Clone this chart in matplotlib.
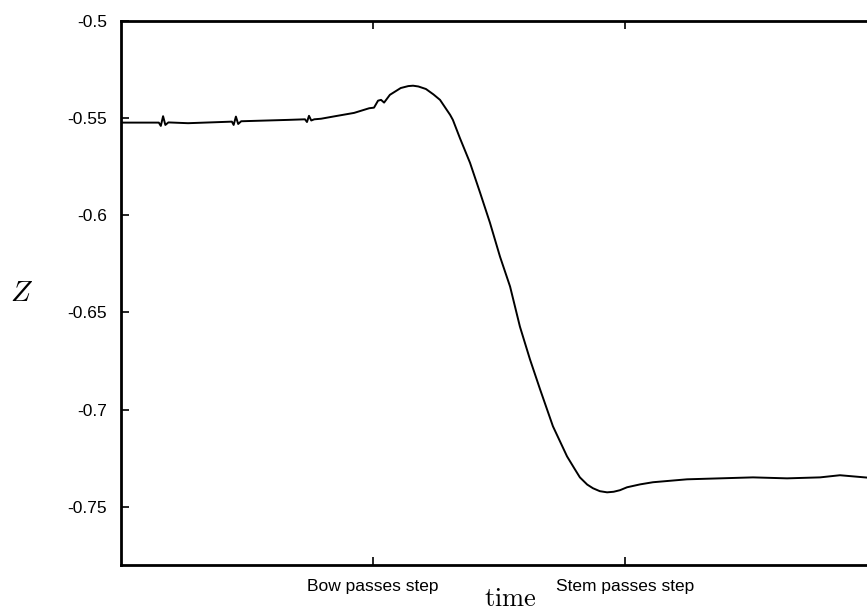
import matplotlib
matplotlib.use("Agg")
import matplotlib.pyplot as plt

plt.rcParams['font.family'] = ['Liberation Sans', 'DejaVu Sans']
plt.rcParams['mathtext.fontset'] = 'cm'
plt.rcParams['axes.unicode_minus'] = False

# time (in units where bow passes step = 1, stem passes step = 2)
t = [0.000, 0.100, 0.150, 0.158, 0.167, 0.176, 0.188, 0.266, 0.440, 0.447, 0.456,
     0.465, 0.477, 0.663, 0.730, 0.738, 0.746, 0.755, 0.767, 0.794, 0.850, 0.925,
     0.985, 1.004, 1.020, 1.032, 1.044, 1.067, 1.110, 1.140, 1.159, 1.180, 1.210,
     1.240, 1.266, 1.294, 1.306, 1.317, 1.345, 1.385, 1.425, 1.464, 1.504, 1.544,
     1.583, 1.623, 1.663, 1.714, 1.770, 1.800, 1.821, 1.850, 1.873, 1.900, 1.929,
     1.955, 1.980, 2.008, 2.060, 2.111, 2.246, 2.377, 2.508, 2.643, 2.774, 2.853,
     2.960, 3.000]
z = [-0.5523, -0.5523, -0.5523, -0.5540, -0.5490, -0.5535, -0.5522, -0.5526, -0.5518,
     -0.5535, -0.5492, -0.5530, -0.5516, -0.5509, -0.5506, -0.5520, -0.5488, -0.5512,
     -0.5506, -0.5503, -0.5490, -0.5473, -0.5449, -0.5446, -0.5410, -0.5406, -0.5420,
     -0.5380, -0.5345, -0.5335, -0.5333, -0.5337, -0.5350, -0.5378, -0.5406, -0.5460,
     -0.5483, -0.5509, -0.5603, -0.5730, -0.5884, -0.6038, -0.6213, -0.6367, -0.6573,
     -0.6742, -0.6896, -0.7086, -0.7241, -0.7305, -0.7349, -0.7386, -0.7405, -0.7420,
     -0.7426, -0.7423, -0.7415, -0.7400, -0.7385, -0.7374, -0.7359, -0.7354, -0.7349,
     -0.7354, -0.7349, -0.7338, -0.7350, -0.7352]

yticks = [-0.75, -0.7, -0.65, -0.6, -0.55, -0.5]
ytick_labels = ['-0.75', '-0.7', '-0.65', '-0.6', '-0.55', '-0.5']
xticks = [1, 2]
xtick_labels = ['Bow passes step', 'Stem passes step']

fig = plt.figure(figsize=(8.67, 6.15), dpi=100)
ax = fig.add_axes([121 / 867, 50 / 615, 756 / 867, 544 / 615])

ax.plot(t, z, color='black', linewidth=1.4)

ax.set_xlim(0, 3)
ax.set_ylim(-0.78, -0.5)
ax.set_yticks(yticks)
ax.set_yticklabels(ytick_labels, fontsize=12.5)
ax.set_xticks(xticks)
ax.set_xticklabels(xtick_labels, fontsize=12.5)
ax.tick_params(direction='in', length=6, width=1.2, top=True, right=True)
ax.tick_params(axis='y', pad=10)
ax.tick_params(axis='x', pad=10)
for s in ax.spines.values():
    s.set_linewidth(2)

fig.text(510 / 867, 1 - 606 / 615, r'$\mathrm{time}$', fontsize=19,
         ha='center', va='baseline')
fig.text(22 / 867, 1 - 293 / 615, r'$Z$', fontsize=21, ha='center', va='center')

fig.savefig('out.png', dpi=100)
